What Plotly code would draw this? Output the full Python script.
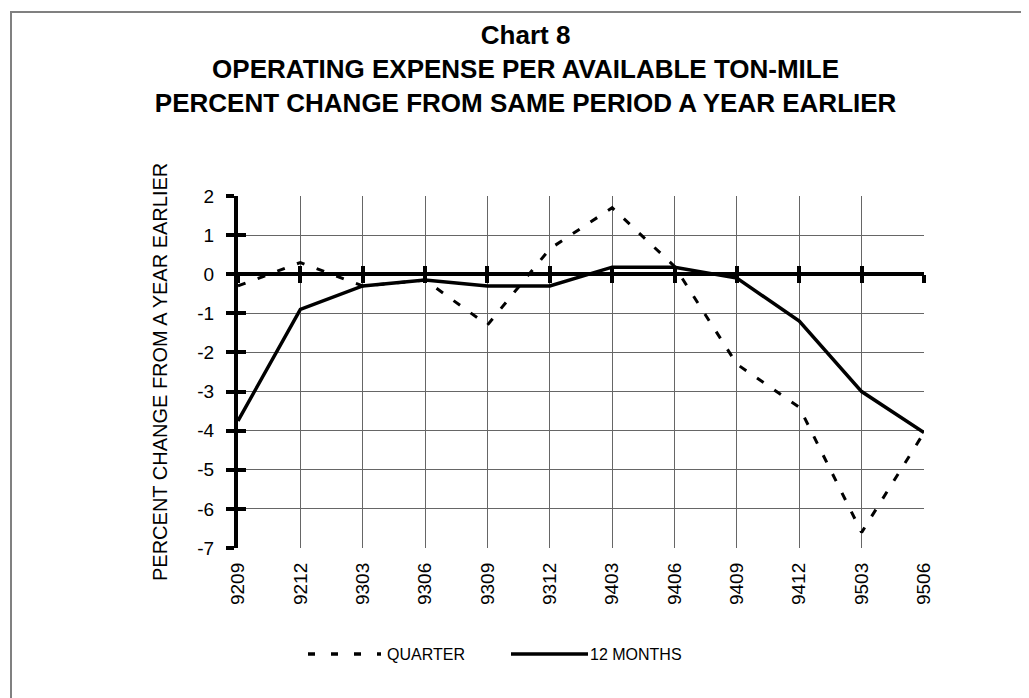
import plotly.graph_objects as go

periods = ["9209", "9212", "9303", "9306", "9309", "9312",
           "9403", "9406", "9409", "9412", "9503", "9506"]
quarter = [-0.3, 0.3, -0.3, -0.15, -1.3, 0.65, 1.7, 0.2, -2.3, -3.4, -6.6, -4.05]
twelve_months = [-3.75, -0.9, -0.3, -0.15, -0.3, -0.3, 0.18, 0.18, -0.1, -1.2, -3.0, -4.05]
y_ticks = list(range(-7, 3))
y_tick_labels = [str(v) for v in y_ticks]

title_lines = ["Chart 8",
               "OPERATING EXPENSE PER AVAILABLE TON-MILE",
               "PERCENT CHANGE FROM SAME PERIOD A YEAR EARLIER"]
y_title = "PERCENT CHANGE FROM A YEAR EARLIER"
legend_names = ["QUARTER", "12 MONTHS"]

FONT = "Liberation Sans, Arial, sans-serif"
W, H = 1029, 698
L, R, T, B = 230, 113, 188, 158
PW, PH = W - L - R, H - T - B


def px(x):
    return (x - L) / PW


def py(y):
    return (H - B - y) / PH


fig = go.Figure()

fig.add_trace(go.Scatter(
    x=periods, y=quarter, mode="lines", name=legend_names[0],
    line=dict(color="black", width=3, dash="8px,13px"),
    showlegend=False,
))
fig.add_trace(go.Scatter(
    x=periods, y=twelve_months, mode="lines", name=legend_names[1],
    line=dict(color="black", width=3.5),
    showlegend=False,
))
# invisible helper traces so that the overlay axes (crossing tick marks) exist
for xa, ya in (("x2", "y"), ("x3", "y"), ("x", "y2")):
    fig.add_trace(go.Scatter(
        x=periods, y=twelve_months, mode="lines", xaxis=xa, yaxis=ya,
        line=dict(color="rgba(0,0,0,0)", width=0),
        hoverinfo="skip", showlegend=False,
    ))

zero_pos = (0 - y_ticks[0]) / (y_ticks[-1] - y_ticks[0])

common_x = dict(type="category", range=[0, len(periods) - 1],
                categoryorder="array", categoryarray=periods,
                tickmode="array", tickvals=periods)

GRID = "#666666"

fig.update_layout(
    width=W, height=H,
    margin=dict(l=L, r=R, t=T, b=B, pad=0),
    paper_bgcolor="white", plot_bgcolor="white",
    font=dict(family=FONT, color="black"),
    title=dict(
        text="<br>".join(f"<b>{t}</b>" for t in title_lines),
        font=dict(family=FONT, size=26, color="black"),
        x=0.503, xref="container", xanchor="center",
        y=1 - 36 / H, yref="container", yanchor="top",
    ),
    xaxis=dict(
        **common_x,
        showgrid=True, gridcolor=GRID, gridwidth=1,
        showline=False, ticks="", zeroline=False,
        tickangle=-90, tickfont=dict(family=FONT, size=19, color="black"),
        ticklabelstandoff=10,
    ),
    xaxis2=dict(
        **common_x, overlaying="x", anchor="free", position=zero_pos,
        showgrid=False, showline=False, showticklabels=False, zeroline=False,
        ticks="outside", ticklen=8, tickwidth=3.5, tickcolor="black",
    ),
    xaxis3=dict(
        **common_x, overlaying="x", anchor="free", position=zero_pos,
        showgrid=False, showline=False, showticklabels=False, zeroline=False,
        ticks="inside", ticklen=8, tickwidth=3.5, tickcolor="black",
    ),
    yaxis=dict(
        range=[y_ticks[0], y_ticks[-1]], tickmode="array",
        tickvals=y_ticks, ticktext=y_tick_labels,
        showgrid=True, gridcolor=GRID, gridwidth=1,
        showline=True, linecolor="black", linewidth=4,
        ticks="outside", ticklen=8, tickwidth=3.5, tickcolor="black",
        zeroline=True, zerolinecolor="black", zerolinewidth=3.5,
        tickfont=dict(family=FONT, size=19, color="black"),
        ticklabelstandoff=8,
    ),
    yaxis2=dict(
        range=[y_ticks[0], y_ticks[-1]], overlaying="y", side="left",
        tickmode="array", tickvals=y_ticks,
        showgrid=False, showline=False, showticklabels=False, zeroline=False,
        ticks="inside", ticklen=8, tickwidth=3.5, tickcolor="black",
    ),
    showlegend=False,
)

# y-axis title
fig.add_annotation(
    text=y_title, textangle=-90, showarrow=False,
    xref="paper", yref="paper", x=px(152), y=0.5,
    xanchor="center", yanchor="middle",
    font=dict(family=FONT, size=20, color="black"),
)

# legend drawn as keys + labels
leg_y = py(646)
fig.add_shape(type="line", xref="paper", yref="paper",
              x0=px(300), x1=px(373), y0=leg_y, y1=leg_y,
              line=dict(color="black", width=3.5, dash="7px,16px"))
fig.add_annotation(text=legend_names[0], showarrow=False, xref="paper", yref="paper",
                   x=px(377), y=leg_y, xanchor="left", yanchor="middle",
                   font=dict(family=FONT, size=16, color="black"))
fig.add_shape(type="line", xref="paper", yref="paper",
              x0=px(503), x1=px(580), y0=leg_y, y1=leg_y,
              line=dict(color="black", width=3.5))
fig.add_annotation(text=legend_names[1], showarrow=False, xref="paper", yref="paper",
                   x=px(580), y=leg_y, xanchor="left", yanchor="middle",
                   font=dict(family=FONT, size=16, color="black"))

# outer chart border (extends past the right/bottom edges of the page)
fig.add_shape(type="rect", xref="paper", yref="paper",
              x0=px(3), x1=px(1040), y0=py(710), y1=py(4),
              line=dict(color="#808080", width=2), fillcolor="rgba(0,0,0,0)",
              layer="below")

fig.write_html("out.html")
